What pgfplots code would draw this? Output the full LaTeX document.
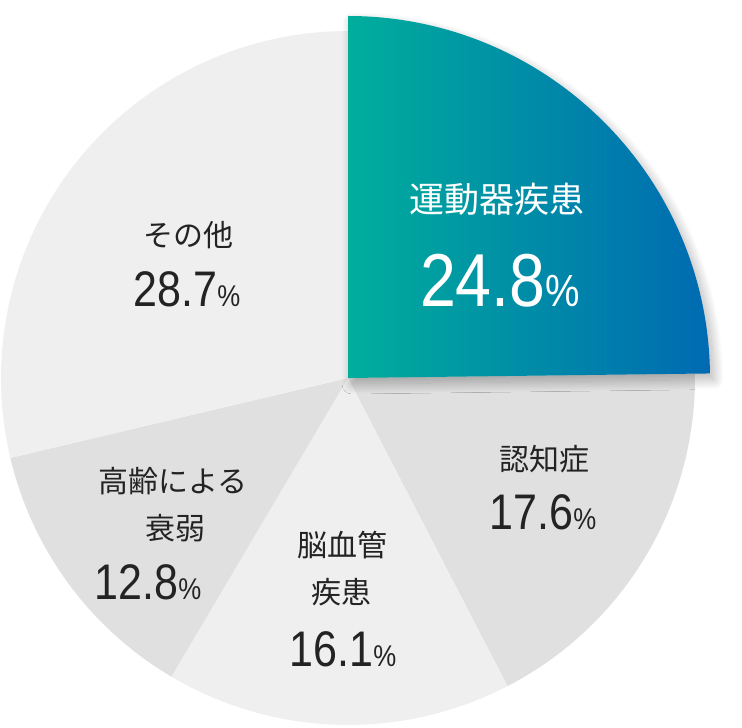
\documentclass[border=0pt]{standalone}
\usepackage{pgfplots}
\usepackage{pgfplotstable}
\pgfplotsset{compat=1.18}
\usetikzlibrary{shadows.blur}
\usepackage{fontspec}
\setmainfont{Noto Sans CJK JP}
\newfontfamily\numfont[FakeStretch=0.86]{Liberation Sans}
\definecolor{pielight}{RGB}{239,239,239}
\definecolor{piedark}{RGB}{224,224,224}
\definecolor{teal1}{RGB}{0,174,156}
\definecolor{blue1}{RGB}{0,106,178}
\definecolor{txt}{RGB}{35,35,35}

\pgfplotstableread[col sep=comma]{
id,value
1,24.8
2,17.6
3,16.1
4,12.8
5,28.7
}\piedata

\begin{document}
\begin{tikzpicture}
\pgfplotstablegetelem{0}{value}\of\piedata \let\vA\pgfplotsretval
\pgfplotstablegetelem{1}{value}\of\piedata \let\vB\pgfplotsretval
\pgfplotstablegetelem{2}{value}\of\piedata \let\vC\pgfplotsretval
\pgfplotstablegetelem{3}{value}\of\piedata \let\vD\pgfplotsretval
\pgfplotstablegetelem{4}{value}\of\piedata \let\vE\pgfplotsretval
\pgfmathsetmacro\aA{90}
\pgfmathsetmacro\aB{\aA-3.6*\vA}
\pgfmathsetmacro\aC{\aB-3.6*\vB}
\pgfmathsetmacro\aD{\aC-3.6*\vC}
\pgfmathsetmacro\aE{\aD-3.6*\vD}
\pgfmathsetmacro\aF{\aE-3.6*\vE}
\begin{axis}[
  name=pie,
  x=1pt, y=1pt,
  xmin=0, xmax=742, ymin=0, ymax=728,
  hide axis, clip=false,
]
% gray slices
\fill[piedark]  (axis cs:348,350) -- +(\aB:347pt) arc[start angle=\aB, end angle=\aC, radius=347pt] -- cycle;
\fill[pielight] (axis cs:348,350) -- +(\aC:347pt) arc[start angle=\aC, end angle=\aD, radius=347pt] -- cycle;
\fill[piedark]  (axis cs:348,350) -- +(\aD:347pt) arc[start angle=\aD, end angle=\aE, radius=347pt] -- cycle;
\fill[pielight] (axis cs:348,350) -- +(\aE:347pt) arc[start angle=\aE, end angle=\aF, radius=347pt] -- cycle;
% highlighted slice
\shade[left color=teal1, right color=blue1,
  blur shadow={shadow xshift=4pt, shadow yshift=-6pt, shadow blur radius=10pt, shadow opacity=30, shadow blur steps=30}]
  (axis cs:348,350) -- +(\aA:362pt) arc[start angle=\aA, end angle=\aB, radius=362pt] -- cycle;
% labels
\node[white, inner sep=0, font=\fontsize{35}{40}\selectfont] at (axis cs:497,529) {運動器疾患};
\node[white, inner sep=0, anchor=base] at (axis cs:500,421) {\numfont\fontsize{75}{75}\selectfont 24.8{\fontsize{45}{45}\selectfont\%}};

\node[txt, inner sep=0, font=\fontsize{30}{34}\selectfont] at (axis cs:188,493) {その他};
\node[txt, inner sep=0, anchor=base] at (axis cs:187,421) {\numfont\fontsize{50}{50}\selectfont 28.7{\fontsize{30}{30}\selectfont\%}};

\node[txt, inner sep=0, font=\fontsize{30}{34}\selectfont] at (axis cs:544,269) {認知症};
\node[txt, inner sep=0, anchor=base] at (axis cs:543,198) {\numfont\fontsize{50}{50}\selectfont 17.6{\fontsize{30}{30}\selectfont\%}};

\node[txt, inner sep=0, font=\fontsize{30}{34}\selectfont] at (axis cs:342,183) {脳血管};
\node[txt, inner sep=0, font=\fontsize{30}{34}\selectfont] at (axis cs:341,136) {疾患};
\node[txt, inner sep=0, anchor=base] at (axis cs:343,61) {\numfont\fontsize{50}{50}\selectfont 16.1{\fontsize{30}{30}\selectfont\%}};

\node[txt, inner sep=0, font=\fontsize{30}{34}\selectfont] at (axis cs:173,247) {高齢による};
\node[txt, inner sep=0, font=\fontsize{30}{34}\selectfont] at (axis cs:175,200) {衰弱};
\node[txt, inner sep=0, anchor=base] at (axis cs:148,128) {\numfont\fontsize{50}{50}\selectfont 12.8{\fontsize{30}{30}\selectfont\%}};
\end{axis}
\pgfresetboundingbox
\path[use as bounding box] (pie.south west) rectangle (pie.north east);
\end{tikzpicture}
\end{document}
